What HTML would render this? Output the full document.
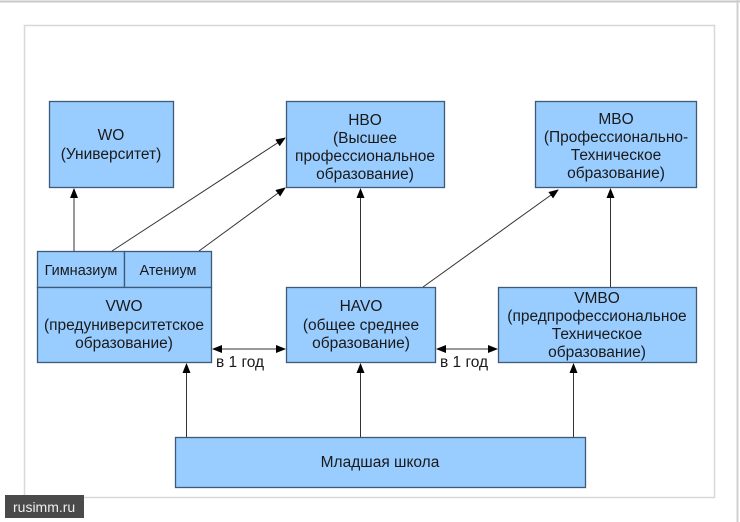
<!DOCTYPE html>
<html><head><meta charset="utf-8"><style>
html,body{margin:0;padding:0;background:#fff;}
svg{display:block;}
text{font-family:"Liberation Sans",sans-serif;font-size:15.5px;fill:#1a1a1a;}
</style></head><body>
<svg width="740" height="522" viewBox="0 0 740 522" xmlns="http://www.w3.org/2000/svg">
<defs>
<marker id="a" markerWidth="10" markerHeight="8" refX="9" refY="4" orient="auto" markerUnits="userSpaceOnUse">
<path d="M0,0 L10,4 L0,8 Z" fill="#000"/></marker>
</defs>
<rect x="0" y="0" width="740" height="522" fill="#fff"/>
<line x1="0" y1="1.5" x2="740" y2="1.5" stroke="#c8c8c8" stroke-width="2"/>
<line x1="737.5" y1="0" x2="737.5" y2="522" stroke="#d0d0d0" stroke-width="2"/>
<rect x="24.5" y="25.5" width="690" height="472" fill="none" stroke="#d8d8d8" stroke-width="1.5"/>
<g fill="#99ccff" stroke="#3d5b78" stroke-width="1.3">
<rect x="49.5" y="101.5" width="124" height="86"/>
<rect x="286.5" y="101.5" width="158" height="86"/>
<rect x="535.5" y="101.5" width="161" height="86"/>
<rect x="37.5" y="251.5" width="87" height="36"/>
<rect x="124.5" y="251.5" width="87" height="36"/>
<rect x="37.5" y="287.5" width="174" height="75"/>
<rect x="286.5" y="287.5" width="149" height="75"/>
<rect x="498.5" y="287.5" width="198" height="75"/>
<rect x="175.5" y="437.5" width="410" height="50"/>
</g>
<g stroke="#333" stroke-width="1" fill="none" marker-end="url(#a)">
<line x1="74" y1="251" x2="74" y2="189"/>
<line x1="112" y1="251" x2="285" y2="138"/>
<line x1="199" y1="251" x2="285" y2="188"/>
<line x1="360.5" y1="287" x2="360.5" y2="189"/>
<line x1="423" y1="287" x2="558" y2="190"/>
<line x1="610.5" y1="287" x2="610.5" y2="189"/>
<line x1="186.5" y1="437" x2="186.5" y2="364"/>
<line x1="360.5" y1="437" x2="360.5" y2="364"/>
<line x1="573.5" y1="437" x2="573.5" y2="364"/>
<line x1="240" y1="349" x2="285" y2="349"/>
<line x1="260" y1="349" x2="213" y2="349"/>
<line x1="460" y1="349" x2="497" y2="349"/>
<line x1="470" y1="349" x2="437" y2="349"/>
</g>
<g text-anchor="middle">
<text x="111" y="140">WO</text><text x="111" y="159">(Университет)</text>
<text x="365" y="125">HBO</text><text x="365" y="143">(Высшее</text><text x="365" y="161">профессиональное</text><text x="365" y="179">образование)</text>
<text x="616" y="124">MBO</text><text x="616" y="142">(Профессионально-</text><text x="616" y="160">Техническое</text><text x="616" y="178">образование)</text>
<text x="81" y="275" style="font-size:14.5px">Гимназиум</text><text x="168" y="275" style="font-size:14.5px">Атениум</text>
<text x="124" y="311">VWO</text><text x="124" y="330">(предуниверситетское</text><text x="124" y="348">образование)</text>
<text x="361" y="311">HAVO</text><text x="361" y="330">(общее среднее</text><text x="361" y="348">образование)</text>
<text x="597" y="303">VMBO</text><text x="597" y="321">(предпрофессиональное</text><text x="597" y="339">Техническое</text><text x="597" y="357">образование)</text>
<text x="380" y="467">Младшая школа</text>
</g>
<text x="216" y="367">в 1 год</text>
<text x="440" y="367">в 1 год</text>
<rect x="5" y="495" width="79" height="23" fill="#4a4a4a"/>
<text x="13" y="512" style="fill:#eee;font-size:14px">rusimm.ru</text>
</svg>
</body></html>
